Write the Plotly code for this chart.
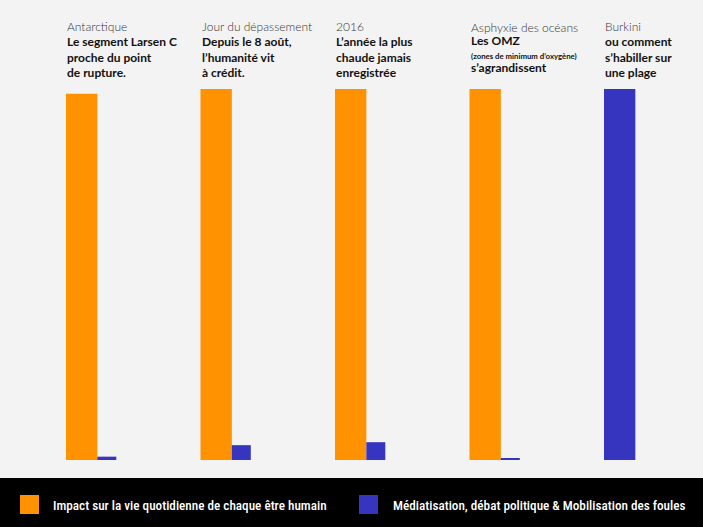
import plotly.graph_objects as go

# ---- data ----
categories = ["Antarctique", "Jour du dépassement", "2016", "Asphyxie des océans", "Burkini"]
headline_line1 = ["Le segment Larsen C", "Depuis le 8 août,", "L’année la plus", "Les OMZ", "ou comment"]
headline_line2 = ["proche du point", "l’humanité vit", "chaude jamais", "(zones de minimum d’oxygène)", "s’habiller sur"]
headline_line3 = ["de rupture.", "à crédit.", "enregistrée", "s’agrandissent", "une plage"]
impact = [98.7, 100, 100, 100, 0]
mediatisation = [0.9, 4.0, 4.8, 0.4, 100]
series_names = ["Impact sur la vie quotidienne de chaque être humain",
                "Médiatisation, débat politique & Mobilisation des foules"]

ORANGE = "#FF9200"
BLUE = "#3535C0"
BG = "#F3F3F3"
W, H = 703, 527
TOP, BOTTOM = 89, 67
PH = H - TOP - BOTTOM

wide, narrow = 0.233, 0.141
blue_offsets = [0 if v == 0 else wide for v in impact]
blue_widths = [wide if v == 0 else narrow for v in impact]

fig = go.Figure()
fig.add_trace(go.Bar(x=categories, y=impact, name=series_names[0],
                     marker=dict(color=ORANGE, line=dict(width=0)),
                     offset=0, width=wide, showlegend=False))
fig.add_trace(go.Bar(x=categories, y=mediatisation, name=series_names[1],
                     marker=dict(color=BLUE, line=dict(width=0)),
                     offset=blue_offsets, width=blue_widths, showlegend=False))

TITLE_FONT = "Lato, Open Sans, DejaVu Sans, sans-serif"

def py(p):
    return (H - BOTTOM - p) / PH

def span(t, size, weight, color):
    return f"<span style='font-size:{size}px;font-weight:{weight};color:{color}'>{t}</span>"

annotations = []
for i, cat in enumerate(categories):
    small_mid = cat == "Asphyxie des océans"
    mid_size = 7.8 if small_mid else 12
    text = "<br>".join([
        span(cat, 12, 300, "#333333"),
        span(headline_line1[i], 12, 700, "#111111"),
        span(headline_line2[i], mid_size, 700, "#111111"),
        span(headline_line3[i], 12, 700, "#111111"),
    ])
    base = 10.26 if small_mid else 11.8
    center = 47.5 if small_mid else 49.5
    annotations.append(dict(x=i, xref="x", xanchor="left", xshift=-1, align="left",
                            y=py(center), yref="paper", yanchor="middle",
                            text=text, showarrow=False,
                            font=dict(family=TITLE_FONT, size=base, color="#111111")))

LEG_FONT = "Roboto Condensed, Liberation Sans Narrow, DejaVu Sans Condensed, Roboto, sans-serif"
shapes = [dict(type="rect", xref="paper", yref="paper", x0=-0.01, x1=1.01,
               y0=py(478), y1=py(540), fillcolor="#000000", line=dict(width=0), layer="below")]
legend_pos = [(20, 51), (359, 391)]
for (sx, tx), col, name in zip(legend_pos, [ORANGE, BLUE], series_names):
    shapes.append(dict(type="rect", xref="paper", yref="paper",
                       x0=sx / W, x1=(sx + 19) / W, y0=py(495), y1=py(514),
                       fillcolor=col, line=dict(width=0)))
    annotations.append(dict(x=tx / W, xref="paper", xanchor="left",
                            y=py(505), yref="paper", yanchor="middle",
                            text=name, showarrow=False,
                            font=dict(family=LEG_FONT, size=13.2, weight=500, color="#FFFFFF")))

fig.update_layout(
    width=W, height=H,
    margin=dict(l=0, r=0, t=TOP, b=BOTTOM, pad=0),
    paper_bgcolor=BG, plot_bgcolor=BG,
    barmode="overlay",
    xaxis=dict(range=[-66 / 134.5, (W - 66) / 134.5], showgrid=False, zeroline=False,
               showticklabels=False, ticks="", showline=False, fixedrange=True),
    yaxis=dict(range=[0, 100], showgrid=False, zeroline=False, showticklabels=False,
               ticks="", showline=False, fixedrange=True),
    shapes=shapes,
    annotations=annotations,
)

fig.write_html("out.html", config={"displayModeBar": False},
               post_script="document.body.style.margin='0';document.body.style.overflow='hidden';document.body.style.background='#F3F3F3';")
